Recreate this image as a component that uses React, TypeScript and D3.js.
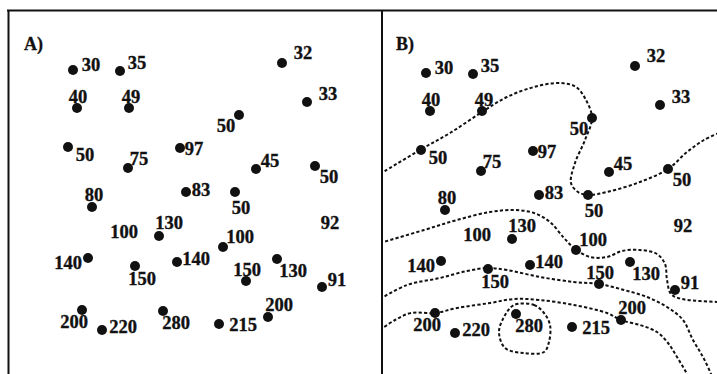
import { useEffect, useRef } from "react";
import * as d3 from "d3";

// station positions (map units) and measured values
const stationX = [65, 112, 274, 69, 121, 299, 231, 60, 120, 172, 248, 307, 84, 178, 227, 322, 116, 151, 215, 80, 127, 169, 238, 269, 314, 74, 94, 155, 211, 260];
const stationY = [60, 61, 53, 98, 98, 92, 105, 137, 158, 138, 159, 156, 197, 182, 182, 213, 222, 226, 237, 248, 256, 252, 271, 249, 277, 300, 320, 301, 314, 307];
const stationValue = [30, 35, 32, 40, 49, 33, 50, 50, 75, 97, 45, 50, 80, 83, 50, 92, 100, 130, 100, 140, 150, 140, 150, 130, 91, 200, 220, 280, 215, 200];
// two stations are printed without a dot
const stationMarked = stationValue.map((_, i) => i !== 15 && i !== 16);
// where the number sits relative to its dot
const labelDx = [18, 17, 21, 1, 2, 21, -13, 17, 11, 14, 14, 14, 2, 15, 6, 0, 0, 10, 17, -20, 7, 19, 1, 16, 15, -8, 21, 13, 24, 11];
const labelDy = [-5, -8, -10, -11, -11, -8, 11, 8, -9, 1, -8, 11, -12, -2, 16, 0, 0, -13, -10, 5, 13, -3, -11, 12, -7, 12, -3, 12, 1, -12];

// hand drawn isolines of panel B (map units)
const iso50: [number, number][] = [[19, 161], [59, 137], [89, 120], [121, 99], [146, 84], [173, 74], [199, 70], [215, 74], [225, 87], [231, 105], [224, 127], [214, 150], [210, 170], [217, 179], [227, 182], [246, 179], [279, 169], [307, 156], [326, 139], [343, 127], [360, 119]];
const iso100: [number, number][] = [[19, 230], [63, 217], [96, 207], [129, 199], [153, 197], [173, 200], [189, 209], [203, 225], [214, 236], [229, 244], [246, 244], [261, 238], [279, 237], [296, 241], [304, 251], [306, 267], [310, 281], [321, 286], [360, 289]];
const iso150: [number, number][] = [[19, 286], [46, 272], [79, 265], [106, 258], [127, 255], [146, 257], [179, 264], [213, 269], [238, 271], [263, 277], [286, 284], [306, 294], [322, 307], [332, 327], [342, 344], [350, 361], [354, 372]];
const iso200: [number, number][] = [[19, 317], [34, 307], [50, 300], [74, 300], [96, 295], [129, 290], [153, 286], [179, 287], [213, 292], [246, 300], [260, 307], [279, 312], [296, 319], [307, 330], [316, 344], [326, 361], [333, 377]];
const iso280: [number, number][] = [[153, 292], [173, 292], [183, 300], [189, 312], [188, 329], [183, 339], [163, 340], [144, 335], [138, 319], [143, 304]];

export default function App() {
  const svgRef = useRef<SVGSVGElement>(null);

  useEffect(() => {
    const width = 717;
    const height = 374;
    const svg = d3.select(svgRef.current).attr("width", width).attr("height", height);
    svg.selectAll("*").remove();

    const font = "'Liberation Serif', 'Times New Roman', serif";

    const panels = [
      { name: "A)", x: d3.scaleLinear().domain([0, 360]).range([8, 368]), y: d3.scaleLinear().domain([0, 364]).range([10, 374]), letterX: 24, iso: false },
      { name: "B)", x: d3.scaleLinear().domain([0, 360]).range([361, 721]), y: d3.scaleLinear().domain([0, 364]).range([13, 377]), letterX: 396, iso: true },
    ];

    svg.append("defs").append("clipPath").attr("id", "clipB")
      .append("rect").attr("x", 383).attr("y", 11).attr("width", 340).attr("height", 370);

    const idx = d3.range(stationValue.length);

    panels.forEach(p => {
      const g = svg.append("g");

      if (p.iso) {
        const line = d3.line<[number, number]>()
          .x(d => p.x(d[0]))
          .y(d => p.y(d[1]))
          .curve(d3.curveCatmullRom);
        const loop = d3.line<[number, number]>()
          .x(d => p.x(d[0]))
          .y(d => p.y(d[1]))
          .curve(d3.curveCatmullRomClosed);
        const cg = g.append("g").attr("clip-path", "url(#clipB)");
        [iso50, iso100, iso150, iso200].forEach(pts => {
          cg.append("path")
            .attr("d", line(pts))
            .attr("fill", "none")
            .attr("stroke", "#111")
            .attr("stroke-width", 2)
            .attr("stroke-dasharray", "3.2,2.2");
        });
        cg.append("path")
          .attr("d", loop(iso280))
          .attr("fill", "none")
          .attr("stroke", "#111")
          .attr("stroke-width", 2)
          .attr("stroke-dasharray", "3.2,2.2");
      }

      g.selectAll(".dot")
        .data(idx.filter(i => stationMarked[i]))
        .enter()
        .append("circle")
        .attr("class", "dot")
        .attr("cx", i => p.x(stationX[i]))
        .attr("cy", i => p.y(stationY[i]))
        .attr("r", 5)
        .attr("fill", "#111");

      g.selectAll(".lbl")
        .data(idx)
        .enter()
        .append("text")
        .attr("class", "lbl")
        .attr("x", i => p.x(stationX[i]) + labelDx[i])
        .attr("y", i => p.y(stationY[i]) + labelDy[i])
        .attr("text-anchor", "middle")
        .attr("dominant-baseline", "central")
        .attr("font-family", font)
        .attr("font-weight", "bold")
        .attr("font-size", "18.5px")
        .attr("fill", "#111")
        .attr("stroke", "#111")
        .attr("stroke-width", 0.35)
        .text(i => stationValue[i]);

      g.append("text")
        .attr("x", p.letterX)
        .attr("y", 50)
        .attr("font-family", font)
        .attr("font-weight", "bold")
        .attr("font-size", "18px")
        .attr("fill", "#111")
        .attr("stroke", "#111")
        .attr("stroke-width", 0.3)
        .text(p.name);
    });

    // frame
    svg.append("line").attr("x1", 7).attr("x2", width).attr("y1", 10.5).attr("y2", 10.5)
      .attr("stroke", "#111").attr("stroke-width", 2);
    [8.5, 382].forEach(x => {
      svg.append("line").attr("x1", x).attr("x2", x).attr("y1", 10).attr("y2", height)
        .attr("stroke", "#111").attr("stroke-width", 2);
    });
  }, []);

  return (
    <div style={{ position: "absolute", left: 0, top: 0 }}>
      <svg ref={svgRef} style={{ display: "block", background: "#fff" }}></svg>
    </div>
  );
}
